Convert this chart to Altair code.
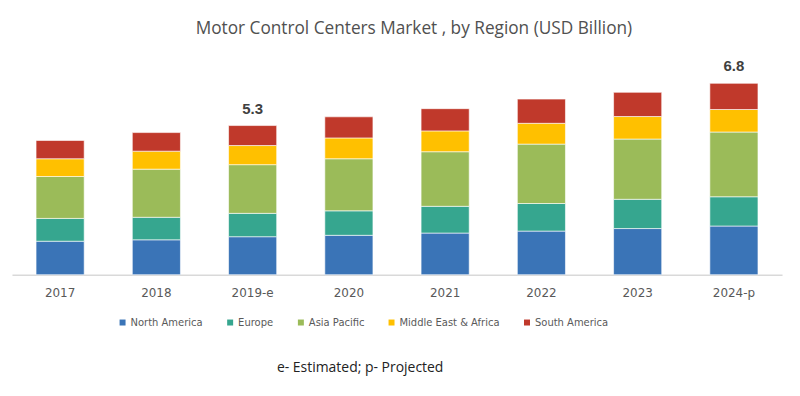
import altair as alt
import pandas as pd

years = ["2017", "2018", "2019-e", "2020", "2021", "2022", "2023", "2024-p"]
regions = ["North America", "Europe", "Asia Pacific", "Middle East & Africa", "South America"]
colors = ["#3a74b7", "#36a68f", "#9bbb59", "#ffc000", "#c0392b"]

north_america = [1.19, 1.24, 1.35, 1.40, 1.48, 1.55, 1.64, 1.73]
europe = [0.81, 0.80, 0.83, 0.87, 0.95, 0.98, 1.04, 1.04]
asia_pacific = [1.49, 1.71, 1.73, 1.85, 1.94, 2.11, 2.14, 2.30]
middle_east_africa = [0.63, 0.64, 0.68, 0.74, 0.74, 0.74, 0.80, 0.80]
south_america = [0.65, 0.66, 0.71, 0.75, 0.79, 0.86, 0.86, 0.93]

label_years = ["2019-e", "2024-p"]
label_values = [5.3, 6.8]

series = [north_america, europe, asia_pacific, middle_east_africa, south_america]
rows = []
for i, (reg, vals) in enumerate(zip(regions, series)):
    for y, v in zip(years, vals):
        rows.append({"year": y, "region": reg, "value": v, "idx": i})
df = pd.DataFrame(rows)
lab = pd.DataFrame({"year": label_years, "value": label_values,
                    "text": [f"{v:.1f}" for v in label_values]})

x_enc = alt.X("year:N", sort=years, scale=alt.Scale(paddingInner=0.5, paddingOuter=0.25),
              axis=alt.Axis(title="e- Estimated; p- Projected", titleX=349, titleY=93,
                            titleBaseline="middle",
                            titleFont="Open Sans", titleFontSize=14, titleFontWeight="normal",
                            titleColor="#222222", titleAnchor="middle",
                            labelAngle=0, ticks=False, labelPadding=13,
                            labelFont="DejaVu Sans", labelFontSize=12, labelColor="#595959",
                            domainColor="#d9d9d9", domainWidth=1.5))

bars = alt.Chart(df).mark_bar(stroke="white", strokeWidth=0.6).encode(
    x=x_enc,
    y=alt.Y("value:Q", stack="zero", scale=alt.Scale(domain=[0, 8], nice=False), axis=None),
    color=alt.Color("region:N", sort=regions,
                    scale=alt.Scale(domain=regions, range=colors),
                    legend=alt.Legend(title=None, orient="none", direction="horizontal",
                                      legendX=106, legendY=269, symbolType="square",
                                      symbolSize=36, symbolStrokeWidth=0, columnPadding=22,
                                      labelOffset=3, labelFont="DejaVu Sans", labelFontSize=10,
                                      labelColor="#595959")),
    order=alt.Order("idx:Q", sort="ascending"),
)

labels = alt.Chart(lab).mark_text(dy=-17, font="Liberation Sans", fontWeight="bold",
                                  fontSize=15, color="#404040").encode(
    x=alt.X("year:N", sort=years),
    y=alt.Y("value:Q"),
    text="text:N",
)

chart = alt.layer(bars, labels).properties(
    width=773, height=226,
    title=alt.Title("Motor Control Centers Market , by Region (USD Billion)",
                    font="Open Sans", fontSize=17.3, fontWeight="normal", color="#505050",
                    anchor="middle", dx=17, offset=12),
    autosize=alt.AutoSizeParams(type="none"),
    padding={"left": 4, "top": 41, "right": 10, "bottom": 112},
).configure_view(stroke=None)

chart.save("out.html", embed_options={"renderer": "svg", "actions": False})
